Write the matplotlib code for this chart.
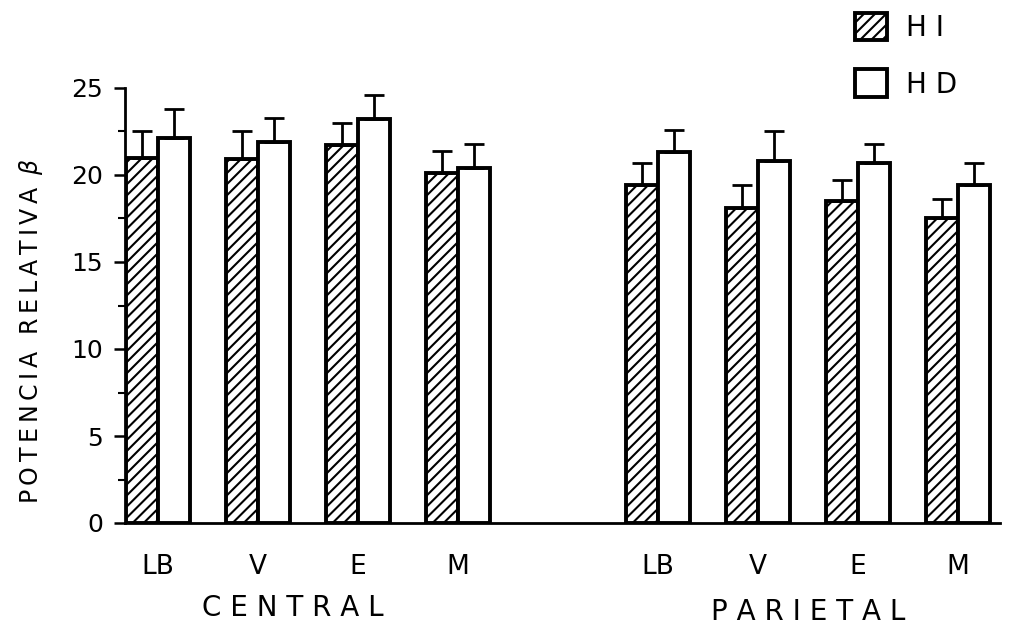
import numpy as np
import matplotlib
matplotlib.use('Agg')
import matplotlib.pyplot as plt
from matplotlib.patches import Patch

# values
regions = ['CENTRAL', 'PARIETAL']
conditions = ['LB', 'V', 'E', 'M']
hi_mean = [21.0, 20.9, 21.7, 20.1, 19.4, 18.1, 18.5, 17.5]
hi_err = [1.5, 1.6, 1.3, 1.3, 1.3, 1.3, 1.2, 1.1]
hd_mean = [22.1, 21.9, 23.2, 20.4, 21.3, 20.8, 20.7, 19.4]
hd_err = [1.7, 1.4, 1.4, 1.4, 1.3, 1.7, 1.1, 1.3]

plt.rcParams['font.family'] = ['DejaVu Sans']
plt.rcParams['hatch.linewidth'] = 1.5

pos = np.array([0, 1, 2, 3, 5, 6, 7, 8])
w = 0.32

fig = plt.figure(figsize=(10.22, 6.25), dpi=100)
ax = fig.add_axes([125 / 1022, 102 / 625, (1000 - 125) / 1022, (523 - 88) / 625])

ax.bar(pos - w / 2, hi_mean, w, color='white', edgecolor='black', hatch='///', linewidth=2.8)
ax.bar(pos + w / 2, hd_mean, w, color='white', edgecolor='black', linewidth=2.8)
ax.errorbar(pos - w / 2, hi_mean, yerr=[np.zeros(8), hi_err], fmt='none', ecolor='black',
            elinewidth=2, capsize=7, capthick=2)
ax.errorbar(pos + w / 2, hd_mean, yerr=[np.zeros(8), hd_err], fmt='none', ecolor='black',
            elinewidth=2, capsize=7, capthick=2)

ax.set_xlim(-0.33, 8.42)
ax.set_ylim(0, 25)
ax.spines['top'].set_visible(False)
ax.spines['right'].set_visible(False)
ax.spines['left'].set_linewidth(2)
ax.spines['bottom'].set_linewidth(2)

ax.set_yticks([0, 5, 10, 15, 20, 25])
ax.set_yticks(np.arange(2.5, 25, 5), minor=True)
ax.tick_params(axis='y', which='major', length=8, width=1.8, labelsize=18, pad=8)
ax.tick_params(axis='y', which='minor', length=5, width=1.5)
ax.set_xticks(pos)
ax.set_xticklabels(conditions * 2, fontsize=19)
ax.tick_params(axis='x', length=0, pad=22)

ylab = '\u2009'.join('POTENCIA') + '\u2009 \u2009' + '\u2009'.join('RELATIVA') + '\u2009 $\\beta$'
ax.set_ylabel(ylab, fontsize=17)
ax.yaxis.set_label_coords(-0.091, 0.44)

ax.text(1.35, -0.196, 'C E N T R A L', transform=ax.get_xaxis_transform(),
        ha='center', va='center', fontsize=20)
ax.text(6.5, -0.205, 'P A R I E T A L', transform=ax.get_xaxis_transform(),
        ha='center', va='center', fontsize=20)

handles = [Patch(facecolor='white', edgecolor='black', hatch='///', linewidth=2.8),
           Patch(facecolor='white', edgecolor='black', linewidth=2.8)]
fig.legend(handles, ['H I', 'H D'], loc='upper left', bbox_to_anchor=(830 / 1022, 1.02),
           frameon=False, fontsize=20, handlelength=1.15, handleheight=1.15,
           handletextpad=0.7, labelspacing=1.0)

fig.savefig('out.png', dpi=100)
